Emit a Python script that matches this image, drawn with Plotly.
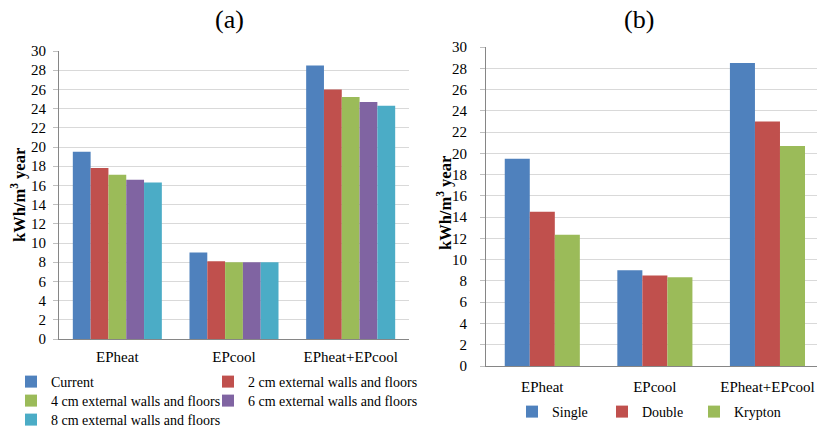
import plotly.graph_objects as go

W, H = 817, 427

categories = ["EPheat", "EPcool", "EPheat+EPcool"]

# Panel (a)
a_names = ["Current", "2 cm external walls and floors", "4 cm external walls and floors",
           "6 cm external walls and floors", "8 cm external walls and floors"]
a_current = [19.5, 9.0, 28.5]
a_2cm = [17.8, 8.1, 26.0]
a_4cm = [17.1, 8.0, 25.2]
a_6cm = [16.6, 8.0, 24.7]
a_8cm = [16.3, 8.0, 24.3]

# Panel (b)
b_names = ["Single", "Double", "Krypton"]
b_single = [19.5, 9.0, 28.5]
b_double = [14.5, 8.5, 23.0]
b_krypton = [12.35, 8.35, 20.7]

y_ticks = list(range(0, 31, 2))

colors = ["#4F81BD", "#C0504D", "#9BBB59", "#8064A2", "#4BACC6"]
FONT = "Liberation Serif, Times New Roman, serif"


def px_x(v):
    return v / W


def px_y(v):
    return 1 - v / H


fig = go.Figure()

# legend anchor points (text start x, text centre y) in window pixels
a_leg_pos = [(49, 382), (246, 382), (49, 401), (246, 401), (49, 420)]
b_leg_pos = [(550, 412), (640, 412), (732, 412)]

legends = {}
a_series = [a_current, a_2cm, a_4cm, a_6cm, a_8cm]
for i, (name, vals, col) in enumerate(zip(a_names, a_series, colors)):
    lg = "legend" if i == 0 else f"legend{i + 1}"
    fig.add_trace(go.Bar(x=categories, y=vals, name=name, marker=dict(color=col, line=dict(width=0)),
                         xaxis="x", yaxis="y", legend=lg, showlegend=True))
    legends[lg] = a_leg_pos[i]

# panel (b) bars are narrower relative to their category slot than panel (a)
b_group_width = 0.667
b_bar_width = b_group_width / 3
b_series = [b_single, b_double, b_krypton]
for j, (name, vals, col) in enumerate(zip(b_names, b_series, colors[:3])):
    lg = f"legend{6 + j}"
    fig.add_trace(go.Bar(x=categories, y=vals, name=name, marker=dict(color=col, line=dict(width=0)),
                         xaxis="x2", yaxis="y2", legend=lg, showlegend=True,
                         width=b_bar_width, offset=-b_group_width / 2 + j * b_bar_width))
    legends[lg] = b_leg_pos[j]

leg_layout = {}
for lg, (tx, ty) in legends.items():
    leg_layout[lg] = dict(x=px_x(tx - 38), y=px_y(ty), xanchor="left", yanchor="middle",
                          orientation="h", font=dict(family=FONT, size=14, color="black"),
                          itemwidth=30, bgcolor="rgba(0,0,0,0)", borderwidth=0, visible=True)

axis_common = dict(
    showline=True, linecolor="#868686", linewidth=1,
    tickfont=dict(family=FONT, size=15, color="black"),
    tickvals=y_ticks, ticks="outside", ticklen=5, tickcolor="#BFBFBF",
    showgrid=True, gridcolor="#D9D9D9", gridwidth=1, zeroline=False, range=[0, 30],
)

ann_common = dict(xref="paper", yref="paper", xanchor="center", yanchor="middle", showarrow=False)

fig.update_layout(
    width=W, height=H,
    margin=dict(l=0, r=0, t=0, b=0, autoexpand=False),
    paper_bgcolor="white", plot_bgcolor="white",
    showlegend=True,
    barmode="group",
    bargap=0.237, bargroupgap=0,
    font=dict(family=FONT, color="black"),
    xaxis=dict(domain=[px_x(59), px_x(409)], anchor="y", range=[-0.5, 2.5],
               type="category", ticks="", tickfont=dict(family=FONT, size=15, color="black"),
               ticklabelstandoff=4,
               showline=True, linecolor="#868686", showgrid=False),
    yaxis=dict(domain=[px_y(339), px_y(51)], anchor="x", ticklabelstandoff=4, **axis_common),
    xaxis2=dict(domain=[px_x(486), 1.0], anchor="y2", range=[-0.5, 2.44],
                type="category", ticks="", tickfont=dict(family=FONT, size=15, color="black"),
                ticklabelstandoff=7,
                showline=True, linecolor="#868686", showgrid=False),
    yaxis2=dict(domain=[px_y(366), px_y(47)], anchor="x2", ticklabelstandoff=10, **axis_common),
    annotations=[
        dict(text="(a)", x=px_x(229), y=px_y(19), font=dict(family=FONT, size=26, color="black"),
             **ann_common),
        dict(text="(b)", x=px_x(639), y=px_y(19), font=dict(family=FONT, size=26, color="black"),
             **ann_common),
        dict(text="<b>kWh/m<sup>3</sup> year</b>", x=px_x(18), y=px_y(195), textangle=-90,
             font=dict(family=FONT, size=16.5, color="black"), **ann_common),
        dict(text="<b>kWh/m<sup>3</sup> year</b>", x=px_x(444), y=px_y(203), textangle=-90,
             font=dict(family=FONT, size=16.5, color="black"), **ann_common),
    ],
    **leg_layout,
)

# remove the browser's default 8px body margin so the figure fills the window exactly
fig.write_html("out.html", config={"displayModeBar": False},
               post_script="document.body.style.margin='0';")
